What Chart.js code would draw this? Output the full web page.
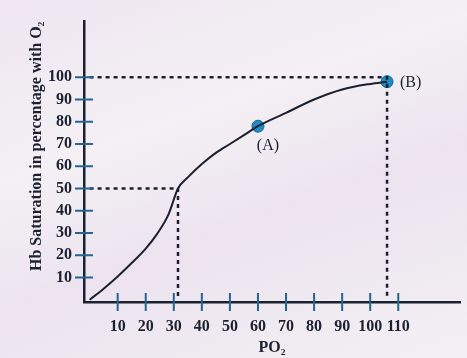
<!DOCTYPE html>
<html lang="en">
<head>
  <meta charset="UTF-8">
  <title>Oxygen dissociation curve</title>
  <script src="https://cdn.jsdelivr.net/npm/chart.js"></script>
  <style>
    body {
      margin: 0;
      background: linear-gradient(160deg, #efe6f1 0%, #f4f0f4 35%, #ece3ef 60%, #f3f0f3 100%);
    }
    .chart-container {
      width: 467px;
      height: 358px;
    }
  </style>
</head>
<body>
  <div class="chart-container"><canvas id="odcChart"></canvas></div>

  <script>
    // curve (PO2 vs % saturation)
    const po2 = [0, 5, 10, 15, 20, 24, 28, 31.5, 35, 40, 45, 50, 55, 60, 70, 80, 90, 100, 106];
    const saturation = [0, 5, 10.5, 16.5, 23, 29.5, 38, 50, 55, 61, 66, 70, 74, 78, 84, 90, 94.5, 97, 98];

    // marked points
    const markX = [60, 106];
    const markY = [78, 98];
    const markNames = ["(A)", "(B)"];

    // dashed guide lines
    const guide50X = [0, 31.5, 31.5];
    const guide50Y = [50, 50, 0];
    const guideBX = [0, 106, 106];
    const guideBY = [100, 100, 0];

    const xTicks = [10, 20, 30, 40, 50, 60, 70, 80, 90, 100, 110];
    const yTicks = [10, 20, 30, 40, 50, 60, 70, 80, 90, 100];

    const ink = "#1b2130";
    const tickBlue = "#25658f";
    const pts = (xs, ys) => xs.map((x, i) => ({ x, y: ys[i] }));

    // cross-shaped tick marks through both axes, plus point labels
    const axisMarks = {
      id: "axisMarks",
      afterDatasetsDraw(chart) {
        const { ctx, chartArea, scales: { x, y } } = chart;
        ctx.save();
        ctx.strokeStyle = tickBlue;
        ctx.lineWidth = 2;
        ctx.beginPath();
        xTicks.forEach(v => {
          const px = x.getPixelForValue(v);
          ctx.moveTo(px, chartArea.bottom - 9);
          ctx.lineTo(px, chartArea.bottom + 9);
        });
        yTicks.forEach(v => {
          const py = y.getPixelForValue(v);
          ctx.moveTo(chartArea.left - 9, py);
          ctx.lineTo(chartArea.left + 9, py);
        });
        ctx.stroke();

        ctx.fillStyle = ink;
        ctx.font = "16px 'Liberation Serif'";
        ctx.textBaseline = "middle";
        // (A) sits below its point, (B) to the right
        ctx.textAlign = "center";
        ctx.fillText(markNames[0], x.getPixelForValue(markX[0]) + 10, y.getPixelForValue(markY[0]) + 20);
        ctx.textAlign = "left";
        ctx.fillText(markNames[1], x.getPixelForValue(markX[1]) + 13, y.getPixelForValue(markY[1]) + 1);
        ctx.restore();
      }
    };

    const tickFont = { family: "'Liberation Serif'", size: 16, weight: "bold" };

    new Chart(document.getElementById("odcChart"), {
      type: "scatter",
      data: {
        datasets: [
          { data: pts(guide50X, guide50Y), showLine: true, borderColor: ink, borderWidth: 2.5, borderDash: [4, 4], pointRadius: 0 },
          { data: pts(guideBX, guideBY), showLine: true, borderColor: ink, borderWidth: 2.5, borderDash: [4, 4], pointRadius: 0 },
          { data: pts(po2, saturation), showLine: true, borderColor: ink, borderWidth: 2, cubicInterpolationMode: "monotone", pointRadius: 0 },
          { data: pts(markX, markY), pointRadius: 6, pointBackgroundColor: "#1f8cc6", pointBorderColor: "#17658f", pointBorderWidth: 1 }
        ]
      },
      options: {
        responsive: true,
        maintainAspectRatio: false,
        animation: false,
        layout: { padding: { top: 18, right: 0, bottom: 0, left: 0 } },
        plugins: { legend: { display: false }, tooltip: { enabled: false } },
        scales: {
          x: {
            type: "linear",
            min: -2,
            max: 132,
            afterBuildTicks: s => { s.ticks = xTicks.map(value => ({ value })); },
            afterFit: s => { s.height = 56; },
            grid: { display: false, drawTicks: false },
            border: { display: true, color: ink, width: 2.5 },
            ticks: { color: ink, font: tickFont, padding: 15, maxRotation: 0, autoSkip: false },
            title: { display: true, text: "PO₂", color: ink, font: { family: "'Liberation Serif'", size: 16, weight: "bold" }, padding: { top: 0, bottom: 1 } }
          },
          y: {
            type: "linear",
            min: -1,
            max: 125,
            afterBuildTicks: s => { s.ticks = yTicks.map(value => ({ value })); },
            afterFit: s => { s.width = 84; },
            grid: { display: false, drawTicks: false },
            border: { display: true, color: ink, width: 2.5 },
            ticks: { color: ink, font: tickFont, padding: 12, autoSkip: false },
            title: { display: true, text: "Hb Saturation in percentage with O₂", align: "end", color: ink, font: { family: "'Liberation Serif'", size: 16, weight: "bold" }, padding: { top: 27, bottom: 0 } }
          }
        }
      },
      plugins: [axisMarks]
    });
  </script>
</body>
</html>
